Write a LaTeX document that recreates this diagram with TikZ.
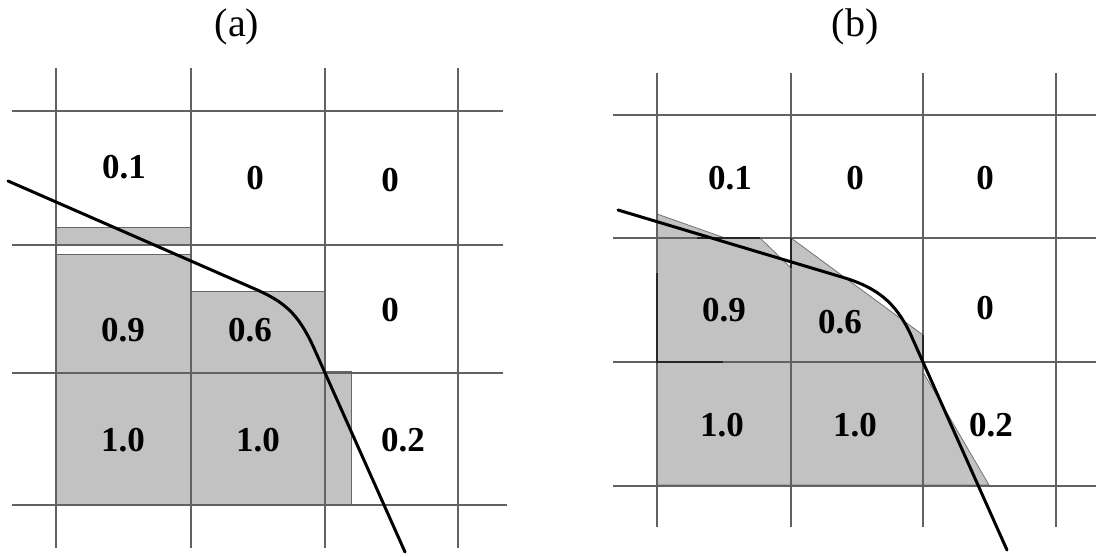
\documentclass[tikz,border=0pt]{standalone}
\usepackage{fontspec}
\setmainfont{Liberation Serif}
\begin{document}
\begin{tikzpicture}[x=1bp,y=-1bp,
  gridline/.style={draw=black!62,line width=1.3bp},
  cellfill/.style={fill=black!24,draw=black!60,line width=1bp},
  edgeline/.style={draw=black!85,line width=1.3bp},
  iface/.style={draw=black,line width=3bp,line join=round,line cap=round},
  val/.style={font=\fontsize{35bp}{38bp}\selectfont\bfseries,inner sep=0pt},
  ttl/.style={font=\fontsize{40bp}{43bp}\selectfont,inner sep=0pt}]
\useasboundingbox (0,0) rectangle (1096,557);
% ---------------- panel (a) ----------------
\path[cellfill] (56,228) rectangle (191,245);
\path[cellfill] (56,255) rectangle (191,505);
\path[cellfill] (191,292) rectangle (325,505);
\path[cellfill] (325,372) rectangle (351,505);
\draw[edgeline] (191,505) -- (325,505);
\foreach \x in {56,191,325,458} \draw[gridline] (\x,68) -- (\x,548);
\foreach \y in {111,245,373} \draw[gridline] (12,\y) -- (503,\y);
\draw[gridline] (12,505) -- (507,505);
\draw[iface] (8,181) -- (255,289) .. controls (285,302) and (298,314) .. (313,346) -- (405,552);
\node[ttl] (ta) at (237,27) {(a)};
\node[val] (a11) at (124,167) {0.1};
\node[val] (a12) at (255,178) {0};
\node[val] (a13) at (390,180) {0};
\node[val] (a21) at (123,330) {0.9};
\node[val] (a22) at (250,330) {0.6};
\node[val] (a23) at (390,310) {0};
\node[val] (a31) at (123,440) {1.0};
\node[val] (a32) at (258,440) {1.0};
\node[val] (a33) at (403,440) {0.2};
% ---------------- panel (b) ----------------
\path[fill=black!24,draw=black!55,line width=0.8bp]
  (657,214) -- (725,238) -- (760,238) -- (791,268) -- (791,238)
  -- (923,335) -- (923,372) -- (989,485) -- (657,485) -- cycle;
\foreach \x in {657,791,923,1056} \draw[gridline] (\x,73) -- (\x,527);
\foreach \y in {115,238,362,486} \draw[gridline] (613,\y) -- (1096,\y);
\draw[edgeline] (657,273) -- (657,362) -- (723,362);
\draw[edgeline] (697,238) -- (760,238);
\draw[edgeline] (791,238) -- (791,268);
\draw[edgeline] (923,335) -- (923,362);
\draw[iface] (618,210) -- (845,278) .. controls (877,288) and (895,302) .. (910,333) -- (1007,550);
\node[ttl] (tb) at (855,27) {(b)};
\node[val] (b11) at (730,178) {0.1};
\node[val] (b12) at (855,178) {0};
\node[val] (b13) at (985,178) {0};
\node[val] (b21) at (724,310) {0.9};
\node[val] (b22) at (840,322) {0.6};
\node[val] (b23) at (985,308) {0};
\node[val] (b31) at (722,425) {1.0};
\node[val] (b32) at (855,425) {1.0};
\node[val] (b33) at (991,425) {0.2};
\end{tikzpicture}
\end{document}
